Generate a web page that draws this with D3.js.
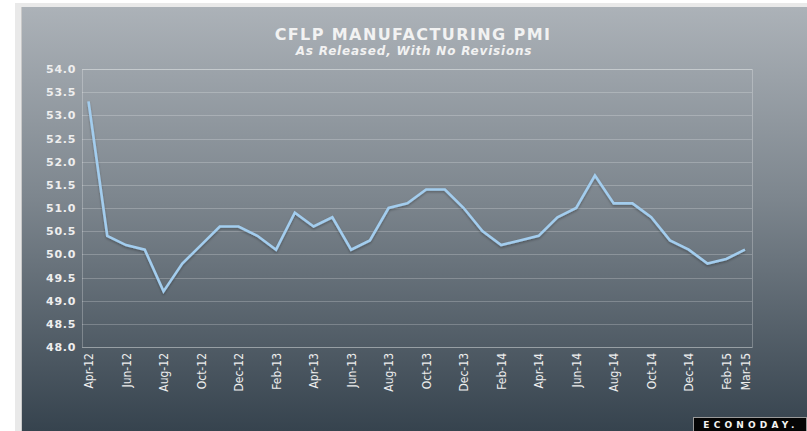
<!DOCTYPE html>
<html>
<head>
<meta charset="utf-8">
<script src="https://cdn.jsdelivr.net/npm/d3@7"></script>
<style>
  html, body { margin: 0; padding: 0; background: #fff; }
  svg { display: block; }
</style>
</head>
<body>
<div id="chart"></div>
<script>
// Datos: CFLP PMI manufacturero, tal como se publicó
const months = [
  "Apr-12", "May-12", "Jun-12", "Jul-12", "Aug-12", "Sep-12", "Oct-12", "Nov-12", "Dec-12",
  "Jan-13", "Feb-13", "Mar-13", "Apr-13", "May-13", "Jun-13", "Jul-13", "Aug-13", "Sep-13",
  "Oct-13", "Nov-13", "Dec-13", "Jan-14", "Feb-14", "Mar-14", "Apr-14", "May-14", "Jun-14",
  "Jul-14", "Aug-14", "Sep-14", "Oct-14", "Nov-14", "Dec-14", "Jan-15", "Feb-15", "Mar-15"
];
const pmi = [
  53.3, 50.4, 50.2, 50.1, 49.2, 49.8, 50.2, 50.6, 50.6,
  50.4, 50.1, 50.9, 50.6, 50.8, 50.1, 50.3, 51.0, 51.1,
  51.4, 51.4, 51.0, 50.5, 50.2, 50.3, 50.4, 50.8, 51.0,
  51.7, 51.1, 51.1, 50.8, 50.3, 50.1, 49.8, 49.9, 50.1
];
const xTickLabels = [
  "Apr-12", "Jun-12", "Aug-12", "Oct-12", "Dec-12", "Feb-13", "Apr-13", "Jun-13", "Aug-13",
  "Oct-13", "Dec-13", "Feb-14", "Apr-14", "Jun-14", "Aug-14", "Oct-14", "Dec-14", "Feb-15", "Mar-15"
];
const yTicks = [48.0, 48.5, 49.0, 49.5, 50.0, 50.5, 51.0, 51.5, 52.0, 52.5, 53.0, 53.5, 54.0];

const W = 807, H = 431;
const plot = { left: 82, right: 752, top: 69, bottom: 347 };

const svg = d3.select("#chart").append("svg")
  .attr("width", W)
  .attr("height", H);

const defs = svg.append("defs");
const grad = defs.append("linearGradient")
  .attr("id", "bg")
  .attr("x1", 0).attr("y1", 0).attr("x2", 0).attr("y2", 1);
grad.append("stop").attr("offset", "0%").attr("stop-color", "#acb2b8");
grad.append("stop").attr("offset", "45%").attr("stop-color", "#7d868e");
grad.append("stop").attr("offset", "100%").attr("stop-color", "#36434e");

const shadow = defs.append("filter").attr("id", "shadow")
  .attr("x", "-5%").attr("y", "-5%").attr("width", "110%").attr("height", "120%");
shadow.append("feDropShadow")
  .attr("dx", 0).attr("dy", 1.5).attr("stdDeviation", 1)
  .attr("flood-color", "#000").attr("flood-opacity", 0.3);

// marco exterior
svg.append("rect").attr("x", 15).attr("y", 3).attr("width", W - 15).attr("height", H - 3)
  .attr("fill", "#e9e9e9");
svg.append("rect").attr("x", 21).attr("y", 7).attr("width", 1).attr("height", H - 7)
  .attr("fill", "#c9c9c9");
svg.append("rect").attr("x", 22).attr("y", 7).attr("width", W - 22).attr("height", H - 7)
  .attr("fill", "url(#bg)");

// títulos
svg.append("text")
  .attr("x", 413).attr("y", 40)
  .attr("text-anchor", "middle")
  .attr("fill", "#f2f2f2")
  .style("font", "bold 16px 'DejaVu Sans'")
  .style("letter-spacing", "1.4px")
  .text("CFLP MANUFACTURING PMI");
svg.append("text")
  .attr("x", 414).attr("y", 55)
  .attr("text-anchor", "middle")
  .attr("fill", "#f2f2f2")
  .style("font", "italic bold 12px 'DejaVu Sans'")
  .style("letter-spacing", "0.8px")
  .text("As Released, With No Revisions");

// escalas
const x = d3.scalePoint().domain(months).range([88.5, 745]);
const y = d3.scaleLinear().domain([48, 54]).range([plot.bottom, plot.top]);

// grilla
svg.append("g")
  .selectAll("line")
  .data(yTicks)
  .join("line")
  .attr("x1", plot.left).attr("x2", plot.right)
  .attr("y1", (d) => Math.round(y(d)) + 0.5)
  .attr("y2", (d) => Math.round(y(d)) + 0.5)
  .attr("stroke", "#ffffff")
  .attr("stroke-opacity", 0.22);

svg.append("rect")
  .attr("x", plot.left + 0.5).attr("y", Math.round(y(54)) + 0.5)
  .attr("width", plot.right - plot.left)
  .attr("height", Math.round(y(48)) - Math.round(y(54)))
  .attr("fill", "none")
  .attr("stroke", "#ffffff")
  .attr("stroke-opacity", 0.25);

// eje Y
const yAxis = svg.append("g")
  .attr("transform", `translate(${plot.left},0)`)
  .call(d3.axisLeft(y).tickValues(yTicks).tickFormat(d3.format(".1f")).tickSize(0).tickPadding(6));
yAxis.select(".domain").remove();
yAxis.selectAll("text")
  .attr("fill", "#eeeeee")
  .style("font", "bold 11px 'DejaVu Sans'")
  .style("letter-spacing", "0.7px");

// eje X
const xAxis = svg.append("g")
  .attr("transform", `translate(0,${plot.bottom})`)
  .call(d3.axisBottom(x).tickValues(xTickLabels).tickSize(0));
xAxis.select(".domain").remove();
xAxis.selectAll("text")
  .attr("fill", "#eeeeee")
  .style("font", "12px 'DejaVu Sans Condensed'")
  .attr("transform", "rotate(-90)")
  .attr("text-anchor", "end")
  .attr("x", -6)
  .attr("y", 0)
  .attr("dy", "0.35em");

// línea
const line = d3.line()
  .x((d, i) => x(months[i]))
  .y((d) => y(d));

svg.append("path")
  .datum(pmi)
  .attr("d", line)
  .attr("fill", "none")
  .attr("stroke", "#a3cdee")
  .attr("stroke-width", 2.6)
  .attr("stroke-linejoin", "miter")
  .attr("filter", "url(#shadow)");

// logo
const logo = svg.append("g").attr("transform", "translate(693,417)");
logo.append("rect")
  .attr("x", 0.5).attr("y", 0.5).attr("width", 113).attr("height", 14)
  .attr("fill", "#050505")
  .attr("stroke", "#9a9a9a");
logo.append("text")
  .attr("x", 58).attr("y", 11)
  .attr("text-anchor", "middle")
  .attr("fill", "#f4f4f4")
  .style("font", "bold 9px 'DejaVu Sans'")
  .style("letter-spacing", "4.2px")
  .text("ECONODAY.");
</script>
</body>
</html>
